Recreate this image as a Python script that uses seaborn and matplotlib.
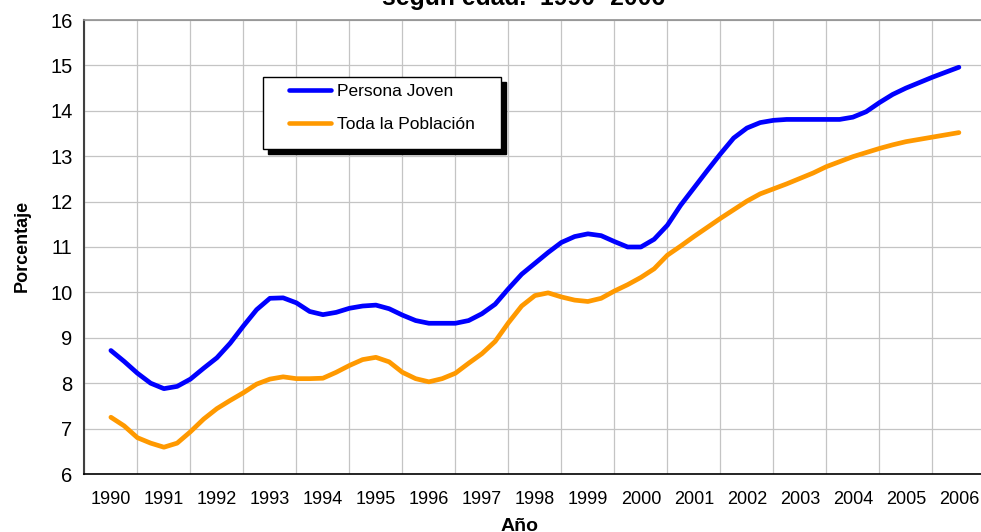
import matplotlib
matplotlib.use("Agg")
import matplotlib.pyplot as plt
from matplotlib.patches import Rectangle
from matplotlib.ticker import FixedLocator, NullFormatter
import numpy as np
import pandas as pd
import seaborn as sns

### 1) Values (quarterly steps, 1990 - 2006)

quarters = [1990 + 0.25 * i for i in range(65)]

joven = [8.72, 8.48, 8.22, 8.00, 7.88, 7.93, 8.09, 8.33,
         8.56, 8.88, 9.26, 9.62, 9.87, 9.88, 9.77, 9.58,
         9.51, 9.56, 9.65, 9.70, 9.72, 9.64, 9.50, 9.38,
         9.32, 9.32, 9.32, 9.38, 9.53, 9.74, 10.08, 10.40,
         10.64, 10.88, 11.10, 11.23, 11.29, 11.25, 11.12, 11.00,
         11.00, 11.17, 11.48, 11.92, 12.30, 12.68, 13.05, 13.40,
         13.62, 13.74, 13.79, 13.81, 13.81, 13.81, 13.81, 13.81,
         13.86, 13.98, 14.18, 14.36, 14.50, 14.62, 14.74, 14.85,
         14.96]

poblacion = [7.25, 7.06, 6.80, 6.68, 6.59, 6.68, 6.93, 7.21,
             7.44, 7.62, 7.79, 7.98, 8.09, 8.14, 8.10, 8.10,
             8.11, 8.24, 8.39, 8.52, 8.57, 8.47, 8.24, 8.10,
             8.03, 8.10, 8.22, 8.44, 8.65, 8.92, 9.33, 9.70,
             9.93, 9.99, 9.90, 9.83, 9.80, 9.87, 10.03, 10.17,
             10.33, 10.52, 10.82, 11.02, 11.23, 11.43, 11.63, 11.82,
             12.01, 12.17, 12.28, 12.39, 12.51, 12.63, 12.77, 12.88,
             12.99, 13.08, 13.17, 13.25, 13.32, 13.37, 13.42, 13.47,
             13.52]

series_names = ["Persona Joven", "Toda la Población"]
year_labels = [str(y) for y in range(1990, 2007)]

df = pd.DataFrame({
    "Año": quarters * 2,
    "Porcentaje": joven + poblacion,
    "Serie": [series_names[0]] * len(quarters) + [series_names[1]] * len(quarters),
})

### 2) Style

sns.set_style("white")
plt.rcParams["font.family"] = ["Liberation Sans", "DejaVu Sans"]
plt.rcParams["text.color"] = "black"

fig = plt.figure(figsize=(9.81, 5.32), dpi=100)
ax = fig.add_axes([84.4 / 981, 1 - 474 / 532, 901 / 981, 454 / 532])

palette = {"Persona Joven": "#0000FF", "Toda la Población": "#FF9900"}
sns.lineplot(data=df, x="Año", y="Porcentaje", hue="Serie", palette=palette,
             linewidth=3.4, legend=False, ax=ax)
for ln in ax.lines:
    ln.set_solid_capstyle("round")
    ln.set_solid_joinstyle("round")

### 3) Axes, ticks, grid

ax.set_xlim(1989.5, 2006.5)
ax.set_ylim(6, 16)
ax.xaxis.set_major_locator(FixedLocator(np.arange(1989.5, 2007, 1)))
ax.xaxis.set_major_formatter(NullFormatter())
ax.set_xticks(np.arange(1990, 2007, 1), labels=year_labels, minor=True)
ax.set_yticks(range(6, 17))
ax.tick_params(axis="x", which="major", length=4.5, width=1, color="#303030", direction="out")
ax.tick_params(axis="x", which="minor", length=0, pad=12, labelsize=13, labelcolor="black")
ax.tick_params(axis="y", length=4.5, width=1, color="#303030", direction="out",
               labelsize=14.5, pad=4, labelcolor="black")
ax.grid(True, which="major", color="#c4c4c4", linewidth=0.9)
ax.set_axisbelow(True)

ax.spines["right"].set_visible(False)
ax.spines["top"].set_color("#909090")
ax.spines["top"].set_linewidth(1.2)
ax.spines["left"].set_color("#404040")
ax.spines["left"].set_linewidth(1.5)
ax.spines["bottom"].set_color("black")
ax.spines["bottom"].set_linewidth(1.2)

ax.set_xlabel("")
ax.set_ylabel("")

### 4) Legend with a hard black shadow

bx, by, bw, bh = 0.198, 0.7154, 0.264, 0.1586
ax.add_patch(Rectangle((bx + 0.0055, by - 0.011), bw, bh, transform=ax.transAxes,
                       facecolor="black", edgecolor="black", zorder=5))
ax.add_patch(Rectangle((bx, by), bw, bh, transform=ax.transAxes,
                       facecolor="white", edgecolor="black", linewidth=1, zorder=6))
leg = ax.legend(ax.lines, series_names, loc="upper left", bbox_to_anchor=(0.227, 0.859),
                frameon=False, borderpad=0, borderaxespad=0, handlelength=2.45,
                handletextpad=0.3, labelspacing=1.0, fontsize=12.5)
leg.set_zorder(7)
for h in leg.legend_handles:
    h.set_linewidth(3.3)
    h.set_solid_capstyle("round")

### 5) Texts (title, axis names) partly cut by the image border, as in the source

fig.text(524 / 981, 1 - 5 / 532, "según edad.  1990 -2006", ha="center", va="baseline",
         fontsize=17.8, fontweight="bold")
fig.text(22 / 981, 1 - 246 / 532, "Porcentaje", rotation=90, ha="center", va="center",
         fontsize=13, fontweight="bold")
fig.text(520 / 981, 1 / 532, "Año", ha="center", va="baseline",
         fontsize=14, fontweight="bold")

fig.savefig("out.png", dpi=100)
